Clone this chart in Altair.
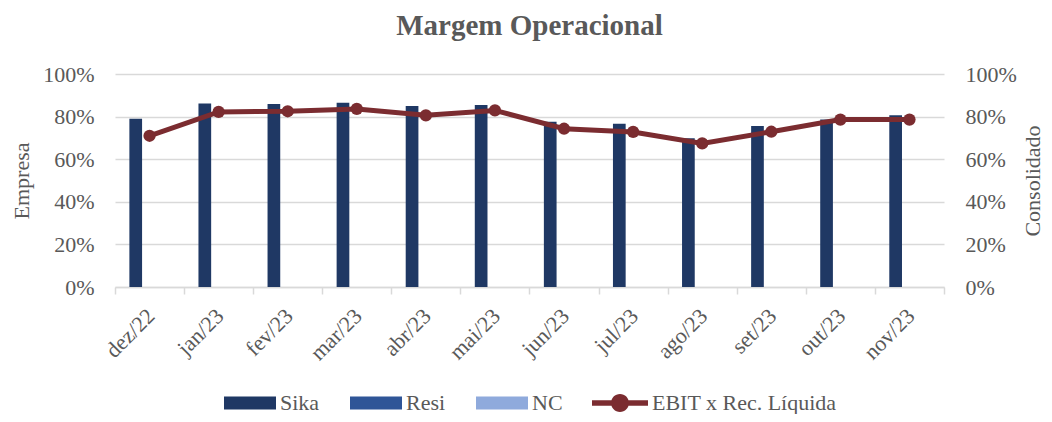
import altair as alt
import pandas as pd

months = ["dez/22", "jan/23", "fev/23", "mar/23", "abr/23", "mai/23",
          "jun/23", "jul/23", "ago/23", "set/23", "out/23", "nov/23"]
sika = [0.790, 0.861, 0.859, 0.865, 0.850, 0.854, 0.776, 0.767, 0.698, 0.756, 0.786, 0.806]
resi = [0, 0, 0, 0, 0, 0, 0, 0, 0, 0, 0, 0]
nc = [0, 0, 0, 0, 0, 0, 0, 0, 0, 0, 0, 0]
ebit = [0.710, 0.822, 0.825, 0.836, 0.806, 0.829, 0.743, 0.728, 0.674, 0.729, 0.786, 0.786]
bar_series = ["Sika", "Resi", "NC"]
bar_colors = ["#1F3864", "#2F5597", "#8FAADC"]
line_name = "EBIT x Rec. Líquida"
line_color = "#7B2C30"

FONT = "Liberation Serif"
TXT = "#595959"
GRID = "#D9D9D9"
RECT = "M-1,-0.25H1V0.25H-1Z"
LINE_DOT = "M-1,-0.1H1V0.1H-1Z M-0.32,0A0.32,0.32 0 1,1 0.32,0A0.32,0.32 0 1,1 -0.32,0Z"
TICKS = [0, 0.2, 0.4, 0.6, 0.8, 1.0]

bar_df = pd.DataFrame({
    "month": months * 3,
    "series": ["Sika"] * 12 + ["Resi"] * 12 + ["NC"] * 12,
    "value": sika + resi + nc,
})
line_df = pd.DataFrame({"month": months, "value": ebit, "name": [line_name] * 12})

x_enc = alt.X(
    "month:N", sort=months,
    scale=alt.Scale(paddingInner=0, paddingOuter=0),
    axis=alt.Axis(
        title=None, labelAngle=-45, labelFontSize=22, labelFont=FONT, labelColor=TXT,
        domainColor=GRID, domainWidth=1.5, tickColor=GRID, tickWidth=1.5, tickSize=7,
        tickBand="extent", grid=False, labelPadding=11, labelOffset=-6,
    ),
)

legend_common = dict(
    title=None, orient="none", direction="horizontal",
    labelFont=FONT, labelFontSize=22, labelColor=TXT, labelLimit=400,
    symbolStrokeWidth=0, labelOffset=4, columnPadding=30,
    symbolOpacity=1,
)

bars = alt.Chart(bar_df).mark_bar(width=12.7).encode(
    x=x_enc,
    xOffset=alt.XOffset("series:N", sort=bar_series,
                        scale=alt.Scale(paddingInner=0, paddingOuter=1)),
    y=alt.Y("value:Q", scale=alt.Scale(domain=[0, 1], nice=False),
            axis=alt.Axis(format=".0%", values=TICKS,
                          title="Empresa", titleFont=FONT, titleFontSize=22,
                          titleFontWeight="normal", titleColor=TXT, titlePadding=9,
                          labelFont=FONT, labelFontSize=22, labelColor=TXT,
                          labelPadding=21, ticks=False, domain=False,
                          gridColor=GRID, gridWidth=1.5)),
    color=alt.Color("series:N", scale=alt.Scale(domain=bar_series, range=bar_colors),
                    legend=alt.Legend(symbolType=RECT, symbolSize=2704,
                                      legendX=109, legendY=303, **legend_common)),
)

y_right = alt.Y("value:Q", scale=alt.Scale(domain=[0, 1], nice=False),
                axis=alt.Axis(orient="right", format=".0%", values=TICKS,
                              title="Consolidado", titleFont=FONT, titleFontSize=22,
                              titleFontWeight="normal", titleColor=TXT, titlePadding=6,
                              titleAngle=270, titleBaseline="top",
                              labelFont=FONT, labelFontSize=22, labelColor=TXT,
                              labelPadding=21, ticks=False, domain=False, grid=False))

line = alt.Chart(line_df).mark_line(color=line_color, strokeWidth=5).encode(
    x=alt.X("month:N", sort=months),
    y=y_right,
)
dots = alt.Chart(line_df).mark_circle(size=150, opacity=1).encode(
    x=alt.X("month:N", sort=months),
    y=y_right,
    fill=alt.Fill("name:N", scale=alt.Scale(domain=[line_name], range=[line_color]),
                  legend=alt.Legend(symbolType=LINE_DOT, symbolSize=3136,
                                    legendX=477, legendY=301, **legend_common)),
)

chart = alt.layer(bars, alt.layer(line, dots)).resolve_scale(y="independent").properties(
    width=829, height=213,
    padding={"left": 107, "top": 66, "right": 100, "bottom": 127},
    autosize=alt.AutoSizeParams(type="none"),
    title=alt.Title("Margem Operacional", font=FONT, fontSize=29, fontWeight="bold",
                    color=TXT, offset=22, anchor="middle"),
    background="white",
).configure_view(stroke=None)

chart.save("out.html", embed_options={"renderer": "svg", "actions": False})
